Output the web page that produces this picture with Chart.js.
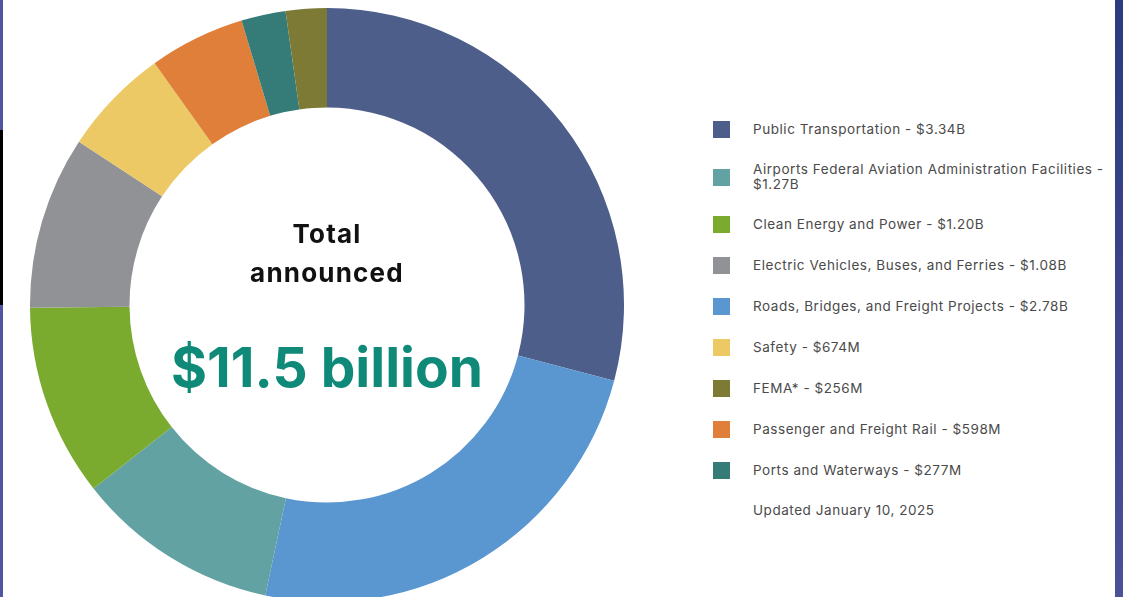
<!DOCTYPE html>
<html>
<head>
<meta charset="utf-8">
<script src="https://cdn.jsdelivr.net/npm/chart.js@4.4.1/dist/chart.umd.min.js"></script>
<style>
  html, body { margin:0; padding:0; width:1123px; height:597px; overflow:hidden; background:#fff; font-family: Inter, "Noto Sans", sans-serif; }
  #leftStripe { position:absolute; left:0; top:0; width:3px; height:597px; background:#4f55a0; }
  #leftBlack { position:absolute; left:0; top:130px; width:3px; height:175px; background:#000; }
  #rightBorder { position:absolute; left:1115px; top:0; width:8px; height:597px; background:linear-gradient(#2b3b7b, #4c5097); }
  #wrap { position:absolute; left:30px; top:8px; width:594px; height:594px; }
  #center { position:absolute; left:127px; top:214px; width:400px; text-align:center; pointer-events:none; }
  #center .t1 { font-weight:700; font-size:26px; line-height:39px; color:#111; letter-spacing:1.2px; }
  #center .t2 { font-weight:700; font-size:55px; line-height:60px; color:#0f8a78; margin-top:45px; }
  #legend { position:absolute; left:713px; top:121px; width:400px; }
  .item { display:flex; align-items:center; margin-bottom:24px; }
  .box { width:17px; height:17px; flex:0 0 17px; margin-right:23px; }
  .txt { font-size:13.5px; line-height:15px; color:#4a4a4a; width:362px; letter-spacing:0.55px; }
  .upd { font-size:13.5px; line-height:15px; color:#4a4a4a; margin-left:40px; letter-spacing:0.55px; }
</style>
</head>
<body>
<div id="leftStripe"></div>
<div id="leftBlack"></div>
<div id="rightBorder"></div>
<div id="wrap"><canvas id="c"></canvas></div>
<div id="center">
  <div class="t1">Total<br>announced</div>
  <div class="t2">$11.5 billion</div>
</div>
<div id="legend"></div>
<script>
// Slices in clockwise order from the top
const categories = [
  "Public Transportation",
  "Roads, Bridges, and Freight Projects",
  "Airports Federal Aviation Administration Facilities",
  "Clean Energy and Power",
  "Electric Vehicles, Buses, and Ferries",
  "Safety",
  "Passenger and Freight Rail",
  "Ports and Waterways",
  "FEMA*"
];
const valuesBillion = [3.34, 2.78, 1.27, 1.20, 1.08, 0.674, 0.598, 0.277, 0.256];
const valueLabels = ["$3.34B", "$2.78B", "$1.27B", "$1.20B", "$1.08B", "$674M", "$598M", "$277M", "$256M"];
const colors = ["#4d5e8a", "#5a97d1", "#62a2a2", "#7aab2f", "#919296", "#ecc964", "#e07f3a", "#357c78", "#7c7a35"];
const legendOrder = [0, 2, 3, 4, 1, 5, 8, 6, 7];
const updatedNote = "Updated January 10, 2025";

const chart = new Chart(document.getElementById('c'), {
  type: 'doughnut',
  data: {
    labels: categories,
    datasets: [{
      data: valuesBillion,
      backgroundColor: colors,
      borderWidth: 0,
      hoverOffset: 0
    }]
  },
  options: {
    responsive: true,
    maintainAspectRatio: false,
    animation: false,
    cutout: '66.5%',
    layout: { padding: 0 },
    plugins: { legend: { display: false }, tooltip: { enabled: false } }
  }
});

const legendEl = document.getElementById('legend');
legendOrder.forEach(i => {
  const item = document.createElement('div');
  item.className = 'item';
  const box = document.createElement('div');
  box.className = 'box';
  box.style.background = colors[i];
  const txt = document.createElement('div');
  txt.className = 'txt';
  txt.textContent = categories[i] + ' - ' + valueLabels[i];
  item.appendChild(box);
  item.appendChild(txt);
  legendEl.appendChild(item);
});
const upd = document.createElement('div');
upd.className = 'upd';
upd.textContent = updatedNote;
legendEl.appendChild(upd);
</script>
</body>
</html>
